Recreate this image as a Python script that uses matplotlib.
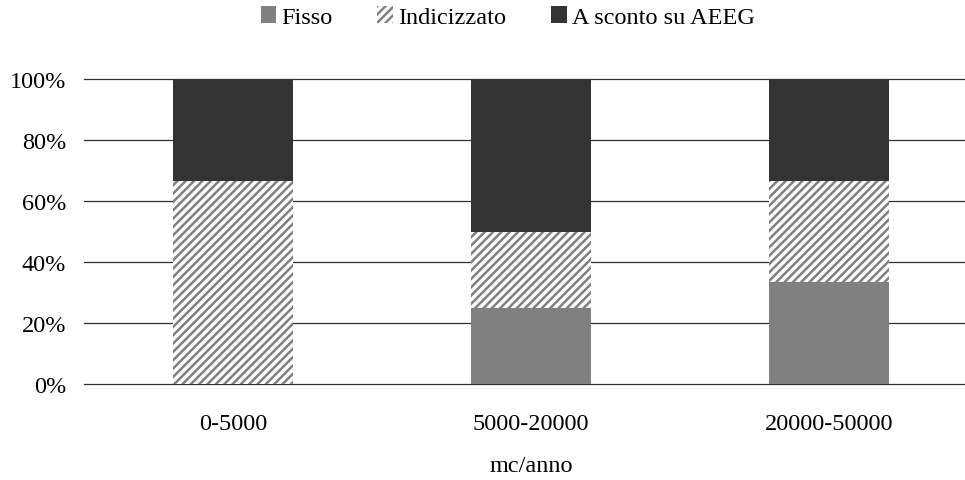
import matplotlib.pyplot as plt
import numpy as np

plt.rcParams['font.family'] = ['Liberation Serif', 'DejaVu Serif']
plt.rcParams['hatch.linewidth'] = 1.8

categories = ["0-5000", "5000-20000", "20000-50000"]
fisso = [0.0, 25.0, 33.3]
indicizzato = [66.7, 25.0, 33.3]
sconto = [33.3, 50.0, 33.4]
y_ticks = [0, 20, 40, 60, 80, 100]

fig = plt.figure(figsize=(9.65, 4.81), dpi=100)
ax = fig.add_axes([84 / 965, 1 - 385 / 481, (978 - 84) / 965, (385 - 80) / 481])

x = np.arange(len(categories))
w = 0.40
b1 = np.array(fisso) / 100
b2 = np.array(indicizzato) / 100
b3 = np.array(sconto) / 100

ax.bar(x, b1, w, color="#808080", label="Fisso", zorder=2)
ax.bar(x, b2, w, bottom=b1, facecolor="white", edgecolor="#808080",
       hatch="////", linewidth=0, label="Indicizzato", zorder=2)
ax.bar(x, b3, w, bottom=b1 + b2, color="#333333", label="A sconto su AEEG", zorder=2)

ax.set_xlim(-0.5, 2.5)
ax.set_ylim(0, 1)
ax.set_yticks([v / 100 for v in y_ticks])
ax.set_yticklabels([f"{v}%" for v in y_ticks])
ax.set_xticks(x)
ax.set_xticklabels(categories)
ax.tick_params(axis="y", length=0, pad=13, labelsize=17.5)
ax.tick_params(axis="x", length=0, pad=21, labelsize=17.5)
ax.grid(axis="y", color="#303030", linewidth=0.9, zorder=1)
for gl in ax.get_ygridlines():
    gl.set_clip_on(False)
ax.set_axisbelow(True)
for s in ax.spines.values():
    s.set_visible(False)

ax.set_xlabel("mc/anno", fontsize=17.5, labelpad=15)

fig.legend(loc="upper center", bbox_to_anchor=(0.526, 1.03), ncol=3, frameon=False,
           fontsize=17.5, handlelength=0.65, handleheight=0.65, handletextpad=0.2,
           columnspacing=1.85)

fig.savefig("out.png", dpi=100)
